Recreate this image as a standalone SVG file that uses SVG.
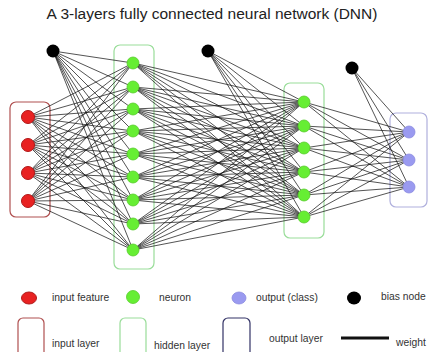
<svg xmlns="http://www.w3.org/2000/svg" width="436" height="352" viewBox="0 0 436 352">
<style>
  text { font-family: "Liberation Sans", Arial, sans-serif; fill: #222; }
  .title { font-size: 15.5px; }
  .lg { font-size: 10.3px; fill: #333; }
  .edges line { stroke: #111; stroke-width: 0.9; stroke-opacity: 0.8; }
  .inp { fill: #e82222; stroke: #b01818; stroke-width: 1; }
  .hid { fill: #66ee33; stroke: #55cc2a; stroke-width: 0.8; }
  .out { fill: #9a9af0; stroke: #8a8ae0; stroke-width: 0.8; }
  .bias { fill: #000; }
  .box-in { fill: none; stroke: #b05050; stroke-width: 1.2; }
  .box-hid { fill: none; stroke: #99dd99; stroke-width: 1.2; }
  .box-out { fill: none; stroke: #b0b0dd; stroke-width: 1.2; }
  .box-out-lg { fill: none; stroke: #333366; stroke-width: 1.2; }
</style>
<rect width="436" height="352" fill="#fff"/>
<text class="title" x="212" y="19" text-anchor="middle">A 3-layers fully connected neural network (DNN)</text>

<!-- layer frames -->
<g id="input-layer-frame"><rect class="box-in" x="10" y="102" width="40" height="115" rx="6"/></g>
<g id="hidden-layer-1-frame"><rect class="box-hid" x="114" y="45" width="40" height="224" rx="6"/></g>
<g id="hidden-layer-2-frame"><rect class="box-hid" x="284" y="83" width="40" height="155" rx="6"/></g>
<g id="output-layer-frame"><rect class="box-out" x="390" y="113" width="37" height="94" rx="6"/></g>

<!-- connectors: weights between layers -->
<g class="edges" id="connectors">
  <!-- input + bias1 -> hidden1 -->
  <g id="w1">
    <line x1="28" y1="117" x2="133" y2="63"/><line x1="28" y1="117" x2="133" y2="87"/><line x1="28" y1="117" x2="133" y2="109"/><line x1="28" y1="117" x2="133" y2="131"/><line x1="28" y1="117" x2="133" y2="154"/><line x1="28" y1="117" x2="133" y2="177"/><line x1="28" y1="117" x2="133" y2="200"/><line x1="28" y1="117" x2="133" y2="224"/><line x1="28" y1="117" x2="133" y2="250"/>
    <line x1="28" y1="145" x2="133" y2="63"/><line x1="28" y1="145" x2="133" y2="87"/><line x1="28" y1="145" x2="133" y2="109"/><line x1="28" y1="145" x2="133" y2="131"/><line x1="28" y1="145" x2="133" y2="154"/><line x1="28" y1="145" x2="133" y2="177"/><line x1="28" y1="145" x2="133" y2="200"/><line x1="28" y1="145" x2="133" y2="224"/><line x1="28" y1="145" x2="133" y2="250"/>
    <line x1="28" y1="173" x2="133" y2="63"/><line x1="28" y1="173" x2="133" y2="87"/><line x1="28" y1="173" x2="133" y2="109"/><line x1="28" y1="173" x2="133" y2="131"/><line x1="28" y1="173" x2="133" y2="154"/><line x1="28" y1="173" x2="133" y2="177"/><line x1="28" y1="173" x2="133" y2="200"/><line x1="28" y1="173" x2="133" y2="224"/><line x1="28" y1="173" x2="133" y2="250"/>
    <line x1="28" y1="201" x2="133" y2="63"/><line x1="28" y1="201" x2="133" y2="87"/><line x1="28" y1="201" x2="133" y2="109"/><line x1="28" y1="201" x2="133" y2="131"/><line x1="28" y1="201" x2="133" y2="154"/><line x1="28" y1="201" x2="133" y2="177"/><line x1="28" y1="201" x2="133" y2="200"/><line x1="28" y1="201" x2="133" y2="224"/><line x1="28" y1="201" x2="133" y2="250"/>
    <line x1="53" y1="51" x2="133" y2="63"/><line x1="53" y1="51" x2="133" y2="87"/><line x1="53" y1="51" x2="133" y2="109"/><line x1="53" y1="51" x2="133" y2="131"/><line x1="53" y1="51" x2="133" y2="154"/><line x1="53" y1="51" x2="133" y2="177"/><line x1="53" y1="51" x2="133" y2="200"/><line x1="53" y1="51" x2="133" y2="224"/><line x1="53" y1="51" x2="133" y2="250"/>
  </g>
  <!-- hidden1 + bias2 -> hidden2 -->
  <g id="w2">
    <line x1="133" y1="63" x2="304" y2="102"/><line x1="133" y1="63" x2="304" y2="126"/><line x1="133" y1="63" x2="304" y2="148"/><line x1="133" y1="63" x2="304" y2="172"/><line x1="133" y1="63" x2="304" y2="195"/><line x1="133" y1="63" x2="304" y2="217"/>
    <line x1="133" y1="87" x2="304" y2="102"/><line x1="133" y1="87" x2="304" y2="126"/><line x1="133" y1="87" x2="304" y2="148"/><line x1="133" y1="87" x2="304" y2="172"/><line x1="133" y1="87" x2="304" y2="195"/><line x1="133" y1="87" x2="304" y2="217"/>
    <line x1="133" y1="109" x2="304" y2="102"/><line x1="133" y1="109" x2="304" y2="126"/><line x1="133" y1="109" x2="304" y2="148"/><line x1="133" y1="109" x2="304" y2="172"/><line x1="133" y1="109" x2="304" y2="195"/><line x1="133" y1="109" x2="304" y2="217"/>
    <line x1="133" y1="131" x2="304" y2="102"/><line x1="133" y1="131" x2="304" y2="126"/><line x1="133" y1="131" x2="304" y2="148"/><line x1="133" y1="131" x2="304" y2="172"/><line x1="133" y1="131" x2="304" y2="195"/><line x1="133" y1="131" x2="304" y2="217"/>
    <line x1="133" y1="154" x2="304" y2="102"/><line x1="133" y1="154" x2="304" y2="126"/><line x1="133" y1="154" x2="304" y2="148"/><line x1="133" y1="154" x2="304" y2="172"/><line x1="133" y1="154" x2="304" y2="195"/><line x1="133" y1="154" x2="304" y2="217"/>
    <line x1="133" y1="177" x2="304" y2="102"/><line x1="133" y1="177" x2="304" y2="126"/><line x1="133" y1="177" x2="304" y2="148"/><line x1="133" y1="177" x2="304" y2="172"/><line x1="133" y1="177" x2="304" y2="195"/><line x1="133" y1="177" x2="304" y2="217"/>
    <line x1="133" y1="200" x2="304" y2="102"/><line x1="133" y1="200" x2="304" y2="126"/><line x1="133" y1="200" x2="304" y2="148"/><line x1="133" y1="200" x2="304" y2="172"/><line x1="133" y1="200" x2="304" y2="195"/><line x1="133" y1="200" x2="304" y2="217"/>
    <line x1="133" y1="224" x2="304" y2="102"/><line x1="133" y1="224" x2="304" y2="126"/><line x1="133" y1="224" x2="304" y2="148"/><line x1="133" y1="224" x2="304" y2="172"/><line x1="133" y1="224" x2="304" y2="195"/><line x1="133" y1="224" x2="304" y2="217"/>
    <line x1="133" y1="250" x2="304" y2="102"/><line x1="133" y1="250" x2="304" y2="126"/><line x1="133" y1="250" x2="304" y2="148"/><line x1="133" y1="250" x2="304" y2="172"/><line x1="133" y1="250" x2="304" y2="195"/><line x1="133" y1="250" x2="304" y2="217"/>
    <line x1="208" y1="51" x2="304" y2="102"/><line x1="208" y1="51" x2="304" y2="126"/><line x1="208" y1="51" x2="304" y2="148"/><line x1="208" y1="51" x2="304" y2="172"/><line x1="208" y1="51" x2="304" y2="195"/><line x1="208" y1="51" x2="304" y2="217"/>
  </g>
  <!-- hidden2 + bias3 -> output -->
  <g id="w3">
    <line x1="304" y1="102" x2="409" y2="132"/><line x1="304" y1="102" x2="409" y2="160"/><line x1="304" y1="102" x2="409" y2="187"/>
    <line x1="304" y1="126" x2="409" y2="132"/><line x1="304" y1="126" x2="409" y2="160"/><line x1="304" y1="126" x2="409" y2="187"/>
    <line x1="304" y1="148" x2="409" y2="132"/><line x1="304" y1="148" x2="409" y2="160"/><line x1="304" y1="148" x2="409" y2="187"/>
    <line x1="304" y1="172" x2="409" y2="132"/><line x1="304" y1="172" x2="409" y2="160"/><line x1="304" y1="172" x2="409" y2="187"/>
    <line x1="304" y1="195" x2="409" y2="132"/><line x1="304" y1="195" x2="409" y2="160"/><line x1="304" y1="195" x2="409" y2="187"/>
    <line x1="304" y1="217" x2="409" y2="132"/><line x1="304" y1="217" x2="409" y2="160"/><line x1="304" y1="217" x2="409" y2="187"/>
    <line x1="352" y1="68" x2="409" y2="132"/><line x1="352" y1="68" x2="409" y2="160"/><line x1="352" y1="68" x2="409" y2="187"/>
  </g>
</g>

<!-- nodes -->
<g id="bias-1"><circle class="bias" cx="53" cy="51" r="6.5"/></g>
<g id="bias-2"><circle class="bias" cx="208" cy="51" r="6.5"/></g>
<g id="bias-3"><circle class="bias" cx="352" cy="68" r="6.5"/></g>

<g id="in-1"><circle class="inp" cx="28" cy="117" r="6.5"/></g>
<g id="in-2"><circle class="inp" cx="28" cy="145" r="6.5"/></g>
<g id="in-3"><circle class="inp" cx="28" cy="173" r="6.5"/></g>
<g id="in-4"><circle class="inp" cx="28" cy="201" r="6.5"/></g>

<g id="h1-1"><circle class="hid" cx="133" cy="63" r="6"/></g>
<g id="h1-2"><circle class="hid" cx="133" cy="87" r="6"/></g>
<g id="h1-3"><circle class="hid" cx="133" cy="109" r="6"/></g>
<g id="h1-4"><circle class="hid" cx="133" cy="131" r="6"/></g>
<g id="h1-5"><circle class="hid" cx="133" cy="154" r="6"/></g>
<g id="h1-6"><circle class="hid" cx="133" cy="177" r="6"/></g>
<g id="h1-7"><circle class="hid" cx="133" cy="200" r="6"/></g>
<g id="h1-8"><circle class="hid" cx="133" cy="224" r="6"/></g>
<g id="h1-9"><circle class="hid" cx="133" cy="250" r="6"/></g>

<g id="h2-1"><circle class="hid" cx="304" cy="102" r="6"/></g>
<g id="h2-2"><circle class="hid" cx="304" cy="126" r="6"/></g>
<g id="h2-3"><circle class="hid" cx="304" cy="148" r="6"/></g>
<g id="h2-4"><circle class="hid" cx="304" cy="172" r="6"/></g>
<g id="h2-5"><circle class="hid" cx="304" cy="195" r="6"/></g>
<g id="h2-6"><circle class="hid" cx="304" cy="217" r="6"/></g>

<g id="out-1"><circle class="out" cx="409" cy="132" r="6"/></g>
<g id="out-2"><circle class="out" cx="409" cy="160" r="6"/></g>
<g id="out-3"><circle class="out" cx="409" cy="187" r="6"/></g>

<!-- legend -->
<g id="legend">
  <ellipse class="inp" cx="29" cy="298" rx="7.5" ry="6"/>
  <text class="lg" x="52" y="301">input feature</text>
  <circle class="hid" cx="133" cy="297" r="6.5"/>
  <text class="lg" x="159" y="301">neuron</text>
  <ellipse class="out" cx="239" cy="298" rx="7" ry="6"/>
  <text class="lg" x="256" y="301">output (class)</text>
  <ellipse class="bias" cx="354" cy="298" rx="7" ry="6.5"/>
  <text class="lg" x="381" y="300">bias node</text>

  <rect class="box-in" x="18" y="318" width="26" height="40" rx="5"/>
  <text class="lg" x="52" y="347">input layer</text>
  <rect class="box-hid" x="120" y="318" width="26" height="40" rx="5"/>
  <text class="lg" x="154" y="349">hidden layer</text>
  <rect class="box-out-lg" x="223" y="318" width="27" height="40" rx="5"/>
  <text class="lg" x="269" y="342">output layer</text>
  <line x1="341" y1="338" x2="389" y2="338" stroke="#111" stroke-width="3"/>
  <text class="lg" x="396" y="346">weight</text>
</g>
</svg>
